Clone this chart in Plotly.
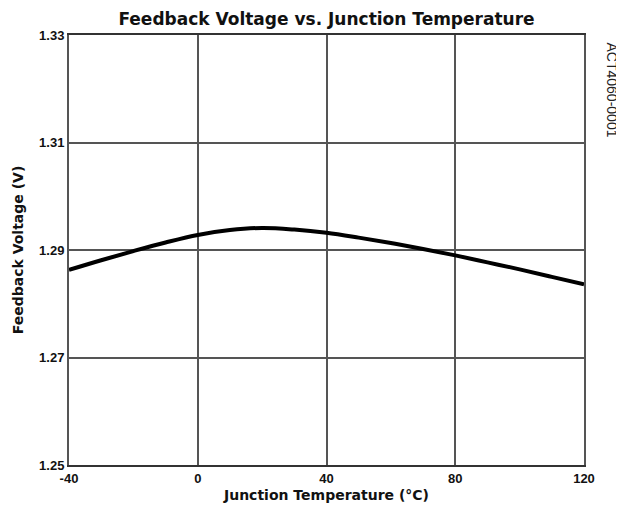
import plotly.graph_objects as go

temps = [-40, -30, -20, -10, 0, 10, 20, 30, 40, 50, 60, 70, 80, 90, 100, 110, 120]
vfb = [1.2863, 1.2881, 1.2898, 1.2914, 1.2928, 1.2937, 1.2941, 1.2938, 1.2932,
       1.2923, 1.2913, 1.2902, 1.2890, 1.2877, 1.2864, 1.2850, 1.2836]
x_ticks = [-40, 0, 40, 80, 120]
y_ticks = [1.25, 1.27, 1.29, 1.31, 1.33]
y_ticklabels = ["1.25", "1.27", "1.29", "1.31", "1.33"]

fig = go.Figure()
fig.add_trace(go.Scatter(x=temps, y=vfb, mode="lines", line=dict(color="black", width=4, shape="spline"),
                         showlegend=False, hoverinfo="skip"))

fnt = "Liberation Sans, Arial, sans-serif"
tfnt = "DejaVu Sans, sans-serif"
fig.update_layout(
    width=616, height=500,
    margin=dict(l=61, r=40, t=27, b=43, autoexpand=False),
    paper_bgcolor="white", plot_bgcolor="white",
    title=dict(text="<b>Feedback Voltage vs. Junction Temperature</b>", x=0.5, xref="paper",
               xanchor="center", y=0.99, yref="container", yanchor="top", pad=dict(t=0, b=0),
               font=dict(family=tfnt, size=17, color="#111")),
    font=dict(family=fnt, color="#111"),
)
fig.update_xaxes(range=[-40, 120], tickvals=x_ticks, ticktext=[str(t) for t in x_ticks],
                 showgrid=True, gridcolor="#555", gridwidth=2, showline=True, linecolor="#333",
                 linewidth=2, mirror=True, zeroline=False, ticks="", automargin=False,
                 tickfont=dict(size=13, weight="bold", color="#111"),
                 title=dict(text="<b>Junction Temperature (°C)</b>", font=dict(family=tfnt, size=14),
                            standoff=6))
fig.update_yaxes(range=[1.25, 1.33], tickvals=y_ticks, ticktext=y_ticklabels,
                 showgrid=True, gridcolor="#555", gridwidth=2, showline=True, linecolor="#555",
                 linewidth=2, mirror=True, zeroline=False, ticks="", automargin=False,
                 tickfont=dict(size=13, weight="bold", color="#111"),
                 title=dict(text="<b>Feedback Voltage (V)</b>", font=dict(family=tfnt, size=14),
                            standoff=12))
fig.add_annotation(text="ACT4060-0001", xref="paper", yref="paper", x=1, xshift=28, y=1, yshift=-5,
                   textangle=90, showarrow=False, xanchor="center", yanchor="top",
                   font=dict(family=fnt, size=14, color="#222"))
fig.write_html("out.html")
